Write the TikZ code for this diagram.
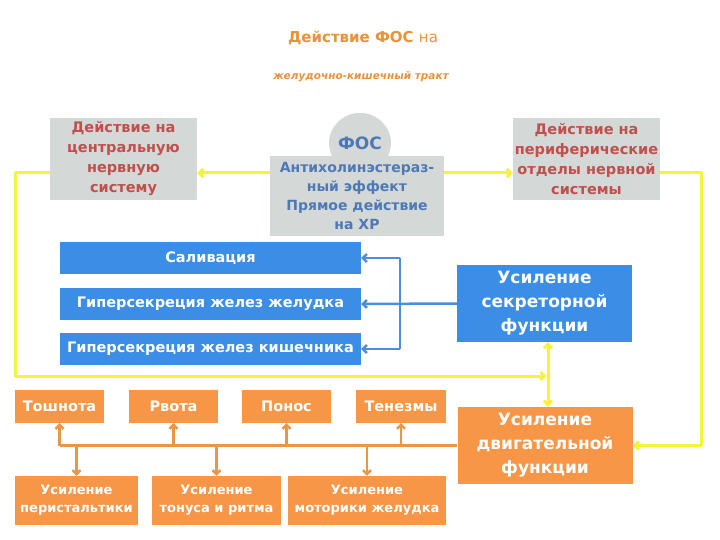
\documentclass[tikz,border=0pt]{standalone}
\usepackage{fontspec}
\setmainfont{DejaVu Sans}
\usepackage{xcolor}
\usepackage{tikz}
\usetikzlibrary{arrows.meta,shapes.geometric}
\definecolor{titleor}{HTML}{E8923A}
\definecolor{greybox}{HTML}{D4D8D6}
\definecolor{redtxt}{HTML}{C0504D}
\definecolor{bluetxt}{HTML}{4F79B5}
\definecolor{bluebox}{HTML}{3B8DE5}
\definecolor{bluelink}{HTML}{4A8FDD}
\definecolor{orbox}{HTML}{F79646}
\definecolor{orlink}{HTML}{E8964A}
\definecolor{yel}{HTML}{F7F23C}
\tikzset{fig/.style={line join=round,x=1bp,y=-1bp},
  gbox/.style={fill=greybox,inner sep=0pt,align=center,font=\fontsize{14.5bp}{20bp}\selectfont\bfseries},
  bbox/.style={fill=bluebox,text=white,inner sep=0pt,align=center,font=\fontsize{14.5bp}{19bp}\selectfont\bfseries},
  obox/.style={fill=orbox,text=white,inner sep=0pt,align=center,font=\fontsize{14.5bp}{18bp}\selectfont\bfseries},
  bigbox/.style={inner sep=0pt,text=white,align=center,minimum width=175bp,minimum height=77bp,font=\fontsize{17bp}{24bp}\selectfont\bfseries},
  yline/.style={yel,line width=3bp,-{Straight Barb[length=4bp,width=8bp]}},
  bline/.style={bluelink,line width=2.5bp,-{Straight Barb[length=4bp,width=8bp]}},
  oline/.style={orlink,line width=2.5bp,-{Straight Barb[length=4bp,width=8bp]}}}

\begin{document}
\begin{tikzpicture}[fig]
  \useasboundingbox (0,0) rectangle (720,540);
  \node[text=titleor,font=\fontsize{15bp}{18bp}\selectfont](title)at(363,38){\bfseries Действие ФОС \mdseries на};
  \node[text=titleor,font=\fontsize{10.5bp}{12bp}\selectfont\bfseries\itshape](subtitle)at(361,77){желудочно-кишечный тракт};
  \node[gbox,text=redtxt,minimum width=147bp,minimum height=82bp](cns)at(123.5,159){Действие на\\центральную\\нервную\\систему};
  \node[gbox,text=redtxt,minimum width=147bp,minimum height=82bp](pns)at(586.5,159){Действие на\\периферические\\отделы нервной\\системы};
  \node[ellipse,fill=greybox,minimum width=56bp,minimum height=60bp,inner sep=0pt,text=bluetxt,font=\fontsize{17bp}{20bp}\selectfont\bfseries](fos)at(360,143){ФОС};
  \node[gbox,text=bluetxt,minimum width=174bp,minimum height=80bp,font=\fontsize{14bp}{19bp}\selectfont\bfseries](eff)at(357,196){Антихолинэстераз-\\ный эффект\\Прямое действие\\на ХР};
  \node[bbox,minimum width=301bp,minimum height=32bp](saliv)at(210.5,258){Саливация};
  \node[bbox,minimum width=301bp,minimum height=32bp](gastr)at(210.5,304){Гиперсекреция желез желудка};
  \node[bbox,minimum width=301bp,minimum height=32bp](intest)at(210.5,349){Гиперсекреция желез кишечника};
  \node[bigbox,fill=bluebox](secr)at(544.5,303.5){Усиление\\секреторной\\функции};
  \node[bigbox,fill=orbox](motor)at(545,445.5){Усиление\\двигательной\\функции};
  \node[obox,minimum width=89bp,minimum height=33bp](nausea)at(59.5,406.5){Тошнота};
  \node[obox,minimum width=89bp,minimum height=33bp](vomit)at(173.5,406.5){Рвота};
  \node[obox,minimum width=89bp,minimum height=33bp](diarr)at(286.5,406.5){Понос};
  \node[obox,minimum width=90bp,minimum height=33bp](tenesm)at(401,406.5){Тенезмы};
  \node[obox,minimum width=123bp,minimum height=49bp,font=\fontsize{13bp}{18bp}\selectfont\bfseries](peri)at(76.5,500.5){Усиление\\перистальтики};
  \node[obox,minimum width=129bp,minimum height=49bp,font=\fontsize{13bp}{18bp}\selectfont\bfseries](tone)at(216.5,500.5){Усиление\\тонуса и ритма};
  \node[obox,minimum width=158bp,minimum height=49bp,font=\fontsize{13bp}{18bp}\selectfont\bfseries](gastmot)at(367,500.5){Усиление\\моторики желудка};
  \coordinate(ly)at(0,173);
  \coordinate(vx)at(548,376);
  \coordinate(lx)at(15,0);
  \coordinate(rx)at(701,0);
  \coordinate(bx)at(400,0);
  \draw[yline](eff.west|-ly)--(cns.east|-ly);
  \draw[yline](eff.east|-ly)--(pns.west|-ly);
  \draw[yline](cns.west|-ly)--(lx|-ly)--(lx|-vx)--([xshift=-1.5bp]vx);
  \draw[yline](pns.east|-ly)--(rx|-ly)--(rx|-motor.east)--(motor.east);
  \draw[yline,{Straight Barb[length=4bp,width=8bp]}-{Straight Barb[length=4bp,width=8bp]}](secr.south-|vx)--(motor.north-|vx);
  \draw[bline](secr.west)--(gastr.east);
  \draw[bluelink,line width=2.5bp](bx|-saliv.east)--(bx|-intest.east);
  \draw[bline](bx|-saliv.east)--(saliv.east);
  \draw[bline](bx|-intest.east)--(intest.east);
  \draw[orlink,line width=2.5bp](motor.west)--(nausea.south|-motor.west);
  \foreach \n in {nausea,vomit,diarr,tenesm}
    \draw[oline](\n.south|-motor.west)--(\n.south);
  \foreach \n in {peri,tone,gastmot}
    \draw[oline](\n.north|-motor.west)--(\n.north);
\end{tikzpicture}
\end{document}
